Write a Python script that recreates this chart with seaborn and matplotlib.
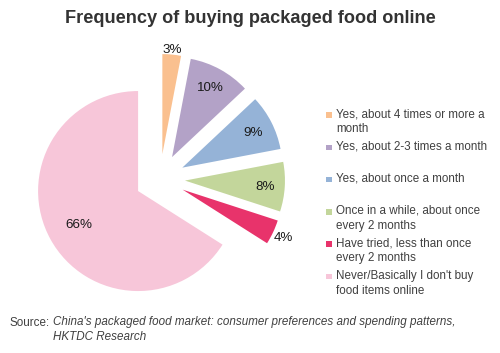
import numpy as np
import matplotlib
matplotlib.use("Agg")
import matplotlib.pyplot as plt
import seaborn as sns
from matplotlib.patches import Rectangle

# ---- data ----
categories = [
    "Yes, about 4 times or more a\nmonth",
    "Yes, about 2-3 times a month",
    "Yes, about once a month",
    "Once in a while, about once\nevery 2 months",
    "Have tried, less than once\nevery 2 months",
    "Never/Basically I don't buy\nfood items online",
]
shares = [3, 10, 9, 8, 4, 66]
colors = ["#FAC08F", "#B3A2C7", "#95B3D7", "#C3D69B", "#E8336B", "#F7C6D9"]
title = "Frequency of buying packaged food online"
source_lead = "Source:"
source_text = ("China's packaged food market: consumer preferences and spending patterns,\n"
               "HKTDC Research")

sns.set_theme(style="white")
plt.rcParams["font.family"] = ["Liberation Sans", "DejaVu Sans"]

W, H = 500, 353
fig = plt.figure(figsize=(W / 100, H / 100), dpi=100)

# pie axes: centre at (160, 179) px, 100 px per unit
cx, cy, half = 160, 179, 160
ax = fig.add_axes([(cx - half) / W, (H - cy - half) / H, 2 * half / W, 2 * half / H])

wedges, texts, autotexts = ax.pie(
    shares, colors=colors, startangle=90, counterclock=False,
    explode=[0.25] * len(shares), radius=1.0,
    autopct=lambda p: f"{p:.0f}%", pctdistance=0.8,
    wedgeprops=dict(linewidth=0),
    textprops=dict(fontsize=9.6, color="#1a1a1a"),
)
ax.set_xlim(-1.6, 1.6)
ax.set_ylim(-1.6, 1.6)
ax.set_aspect("equal")
ax.axis("off")

# label radial distances (from each exploded wedge centre)
label_r = [1.06, 0.8, 0.8, 0.8, 1.11, 0.68]
for w, t, r in zip(wedges, autotexts, label_r):
    ang = np.deg2rad((w.theta1 + w.theta2) / 2)
    wx, wy = w.center
    t.set_position((wx + r * np.cos(ang), wy + r * np.sin(ang)))
    t.set_ha("center")
    t.set_va("center_baseline")

# title
fig.text(250 / W, 1 - 18.5 / H, title, ha="center", va="center",
         fontsize=13.1, fontweight="bold", color="#333333")

# legend (manual, top-aligned entries)
lx_box, lx_txt, ly0, pitch, box = 326, 336, 115, 32.3, 5.5
for i, (lab, col) in enumerate(zip(categories, colors)):
    y = ly0 + i * pitch
    fig.patches.append(Rectangle(((lx_box) / W, 1 - (y + box / 2) / H), box / W, box / H,
                                 transform=fig.transFigure, facecolor=col,
                                 edgecolor="none"))
    fig.text(lx_txt / W, 1 - (y - 7) / H, lab, ha="left", va="top",
             fontsize=8.4, color="#404040", linespacing=1.35)

# source
fig.text(10 / W, 1 - 323 / H, source_lead, ha="left", va="center",
         fontsize=8.4, color="#404040")
fig.text(53 / W, 1 - 316.5 / H, source_text, ha="left", va="top",
         fontsize=8.4, color="#404040", style="italic", linespacing=1.3)

fig.savefig("out.png", dpi=100)
